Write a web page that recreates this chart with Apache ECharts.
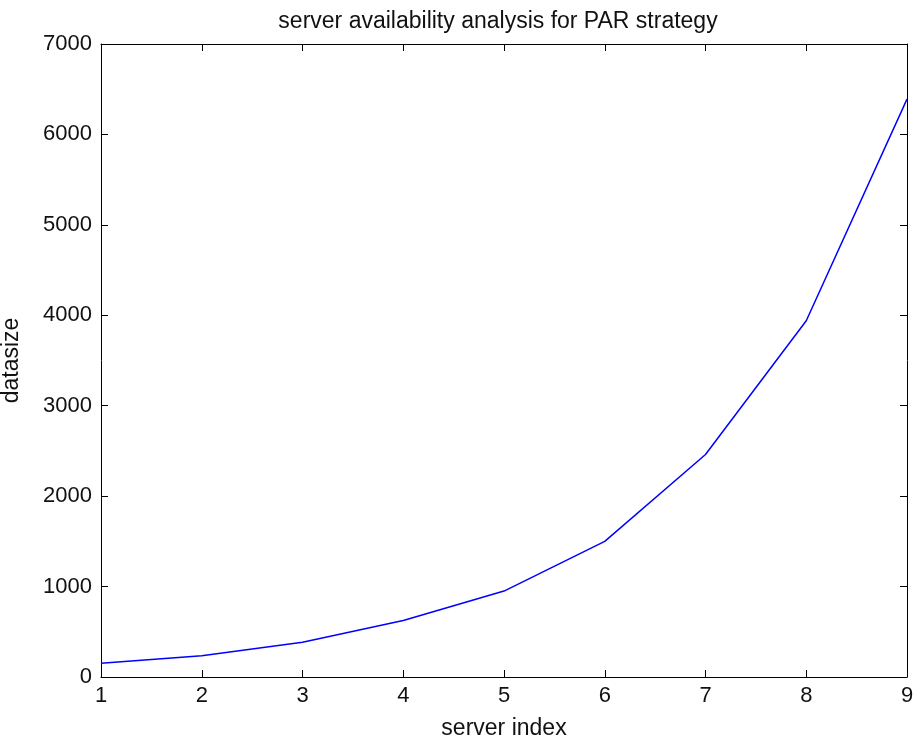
<!DOCTYPE html>
<html>
<head>
<meta charset="utf-8">
<script src="https://cdn.jsdelivr.net/npm/echarts@6/dist/echarts.min.js"></script>
<style>
  html, body { margin: 0; padding: 0; background: #fff; }
  #chart { width: 914px; height: 745px; }
</style>
</head>
<body>
<div id="chart"></div>
<script>
// server index and datasize
var serverIndex = [1, 2, 3, 4, 5, 6, 7, 8, 9];
var datasize = [152, 234, 385, 625, 950, 1500, 2460, 3940, 6390];

var font = 'Liberation Sans';
var textColor = '#111';

var chart = echarts.init(document.getElementById('chart'));

var pts = [];
for (var i = 0; i < serverIndex.length; i++) {
  pts.push([serverIndex[i], datasize[i]]);
}

// box axes (top / right) only carry ticks, like matlab
var boxAxis = function (pos) {
  return {
    type: 'value',
    position: pos,
    min: pos == 'top' ? 1 : 0,
    max: pos == 'top' ? 9 : 7000,
    interval: pos == 'top' ? 1 : 1000,
    axisLine: { show: true, onZero: false, lineStyle: { color: '#000', width: 1 } },
    axisTick: { show: true, inside: true, length: 7, lineStyle: { color: '#000' } },
    axisLabel: { show: false },
    splitLine: { show: false }
  };
};

var option = {
  backgroundColor: '#fff',
  animation: false,
  title: {
    text: 'server availability analysis for PAR strategy',
    left: 493,
    textAlign: 'center',
    top: 5,
    textStyle: { fontFamily: font, fontSize: 23, fontWeight: 'normal', color: textColor }
  },
  grid: { left: 101, right: 7, top: 44, bottom: 68, outerBoundsMode: 'none' },
  xAxis: [{
    type: 'value',
    position: 'bottom',
    min: 1,
    max: 9,
    interval: 1,
    name: 'server index',
    nameLocation: 'middle',
    nameGap: 40,
    nameTextStyle: { fontFamily: font, fontSize: 23, color: textColor },
    axisLine: { show: true, onZero: false, lineStyle: { color: '#000', width: 1 } },
    axisTick: { show: true, inside: true, length: 7, lineStyle: { color: '#000' } },
    axisLabel: { fontFamily: font, fontSize: 22, color: textColor, margin: 8 },
    splitLine: { show: false }
  }, boxAxis('top')],
  yAxis: [{
    type: 'value',
    position: 'left',
    min: 0,
    max: 7000,
    interval: 1000,
    name: 'datasize',
    nameLocation: 'middle',
    nameGap: 78,
    nameTextStyle: { fontFamily: font, fontSize: 23, color: textColor },
    axisLine: { show: true, onZero: false, lineStyle: { color: '#000', width: 1 } },
    axisTick: { show: true, inside: true, length: 7, lineStyle: { color: '#000' } },
    axisLabel: {
      fontFamily: font, fontSize: 22, color: textColor, margin: 9,
      formatter: function (v) { return v + ''; }
    },
    splitLine: { show: false }
  }, boxAxis('right')],
  series: [{
    type: 'line',
    data: pts,
    showSymbol: false,
    lineStyle: { color: '#0000ff', width: 1.5 },
    itemStyle: { color: '#0000ff' }
  }]
};

chart.setOption(option);
</script>
</body>
</html>
